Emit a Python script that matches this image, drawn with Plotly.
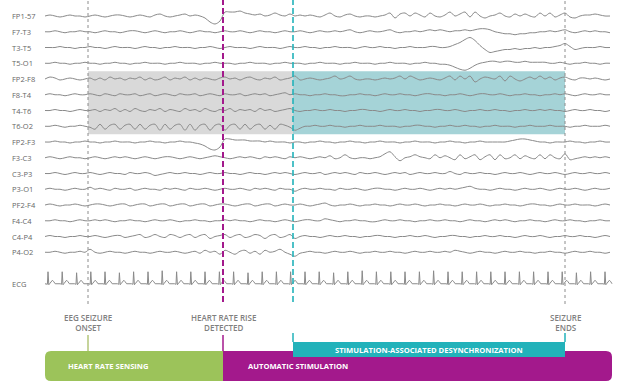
import plotly.graph_objects as go

# ---------------- data ----------------
CHANNELS = ["FP1-57", "F7-T3", "T3-T5", "T5-O1", "FP2-F8", "F8-T4", "T4-T6", "T6-O2",
            "FP2-F3", "F3-C3", "C3-P3", "P3-O1", "PF2-F4", "F4-C4", "C4-P4", "P4-O2"]
ECG_LABEL = "ECG"

T_START = 0.0    # s
DT = 0.25        # s between samples

fp1_f7 = [0,1,0,-1,0,1,0,0,-1,0, 1,0,-1,0,1,1,0,-1,0,1, 0,-1,1,2,0,-1,0,1,2,0,
          1,0,-2,-6,-8,-5,4,4,4,5, 3,2,1,2,0,1,3,1,0,2, 0,1,0,1,0,-1,1,3,0,-1,
          1,2,0,-1,0,0,-1,0,1,3, -2,2,3,0,3,1,-1,3,0,-1, 1,4,0,2,4,-1,4,0,-2,0,
          1,3,0,-1,2,0,2,0,-1,3, 0,3,-1,1,3,-1,-2,0,1,1, 2,1,0,0]
f7_t3 = [0,0,1,0,-1,0,0,1,0,0, -1,0,1,0,0,-1,0,1,1,0, -1,0,1,0,-1,0,0,1,0,-1,
         0,1,0,0,-1,0,1,0,0,1, 0,-1,0,1,0,0,-1,0,1,0, 0,1,0,-1,0,1,0,0,1,0,
         1,2,0,-1,0,1,0,0,1,2, 0,-1,0,0,1,0,1,2,1,2, 1,0,1,1,2,1,2,3,3,2,
         0,-1,-2,-2,-3,-2,-2,-1,-1,0, 0,1,0,1,2,0,-1,0,1,0, 1,0,0,-1]
t3_t5 = [0,0,0,1,0,0,-1,0,0,1, 0,0,-1,0,1,0,0,0,-1,0, 1,0,0,-1,0,0,1,0,0,0,
         -1,0,0,1,0,-1,0,1,0,0, 0,-1,0,1,0,0,0,-1,0,1, 0,0,1,0,0,-1,0,0,1,0,
         0,0,-1,0,1,0,0,1,0,0, -1,0,0,1,0,0,0,1,1,0, 0,1,3,5,8,10,7,2,-2,-5,
         -4,-3,-2,-2,-1,-2,-1,-1,0,-1, 0,0,1,2,4,1,-2,-1,0,0, 0,1,0,0]
t5_o1 = [0,0,1,0,0,-1,0,0,1,0, 0,-1,0,0,1,0,0,-1,0,0, 1,0,0,0,-1,0,0,1,0,0,
         0,-1,0,0,1,0,0,0,-1,0, 0,1,0,0,0,-1,0,0,1,0, 0,0,-1,0,0,1,0,0,0,-1,
         0,0,1,0,0,0,-1,0,0,1, 0,0,0,-1,0,0,1,0,0,-1, -1,-2,-4,-6,-7,-5,-2,0,1,2,
         2,1,2,2,1,1,2,1,1,1, 1,0,0,1,0,-1,0,0,1,0, 0,-1,0,0]
fp2_f8 = [0,2,1,-1,0,1,0,-1,0,1, -1,1,-1,2,0,1,-1,1,0,2, -1,1,-1,0,2,-1,1,0,2,-1,
          1,-1,1,0,-1,1,2,0,1,-1, 1,2,0,-1,1,0,2,-1,0,1, 3,-1,0,1,0,-1,0,1,3,0,
          1,3,0,-1,0,0,-1,0,1,0, 1,3,0,3,1,-1,0,1,0,-1, 1,3,-1,3,0,3,-3,0,2,1,
          0,3,-2,3,0,-2,0,2,0,3, 0,2,-1,1,2,0,-1,1,1,0, 1,0,-1,0]
f8_t4 = [0,1,0,0,-1,0,1,0,0,1, 0,-1,1,0,-1,1,0,0,1,-1, 0,1,-1,0,1,0,-1,1,0,0,
         1,-1,0,1,0,-1,1,0,0,1, -1,0,1,0,1,-1,0,1,2,0, 1,0,0,-1,0,0,1,0,0,-1,
         -1,0,0,1,0,0,-1,0,1,0, 0,1,0,0,-1,0,1,1,0,0, -1,0,0,1,0,-1,0,1,1,0,
         0,1,0,-1,0,0,1,0,0,-1, 0,0,1,0,1,0,-1,0,1,0, 0,1,0,0]
t4_t6 = [0,0,1,0,0,-1,0,1,0,0, 1,-1,1,0,2,-1,1,-1,2,0, -1,1,0,2,-1,1,0,-1,2,0,
         1,-1,2,0,-1,1,0,2,-1,1, 0,1,-1,2,0,1,-1,0,1,2, 0,-1,0,0,1,0,0,1,0,0,
         -1,0,0,1,1,0,0,-1,0,1, 0,0,1,0,0,-1,0,0,1,1, 0,0,1,0,-1,0,0,1,0,0,
         1,0,0,-1,0,0,1,0,0,1, 0,1,0,0,-1,0,1,0,0,1, 0,0,-1,0]
t6_o2 = [0,0,1,0,-1,0,0,1,0,-1, -3,2,-3,1,2,-3,1,2,-3,2, -3,1,2,-4,2,-3,1,2,-4,2,
         -4,1,2,-4,1,2,-4,1,2,-3, 2,-3,1,2,-3,1,-3,2,1,-1, -4,-2,0,0,1,0,0,1,0,0,
         -1,0,0,1,0,0,0,1,0,0, 0,-1,0,0,1,1,0,0,-1,0, 0,1,0,0,1,0,0,-1,0,0,
         1,0,0,0,-1,0,0,1,0,0, 0,1,0,0,0,-1,0,0,1,0, 0,0,1,0]
fp2_f3 = [0,0,1,0,0,-1,0,0,1,0, 0,-1,0,0,1,0,0,0,-1,0, 0,1,0,0,-1,0,0,1,0,0,
          -1,-2,-4,-7,-8,-5,3,3,2,2, 2,1,1,1,0,1,0,0,0,-1, 0,0,-1,0,0,1,0,0,-1,0,
          0,1,0,0,-1,0,0,1,0,0, 0,-1,0,0,1,0,0,0,-1,0, 0,1,0,0,-1,0,0,1,0,0,
          0,0,0,1,2,3,3,2,1,0, 0,-1,0,0,0,1,0,0,-1,0, 0,1,0,0]
f3_c3 = [0,1,0,-1,0,1,0,0,-1,0, 1,0,-1,0,1,0,1,0,-1,0, 1,0,-1,0,1,1,0,-1,0,1,
         0,-1,0,1,2,1,0,-1,0,1, 0,1,0,-1,1,0,1,0,-1,1, 0,1,0,-1,0,1,0,2,-1,0,
         3,0,-1,0,0,-1,0,1,4,6, 1,-3,0,1,3,1,0,-1,3,0, 2,0,-2,3,-1,1,3,-2,1,3,
         -2,3,-1,0,3,-1,2,0,-1,3, -1,3,0,-1,4,-2,-1,0,1,0, 1,0,1,0]
c3_p3 = [0,0,1,0,-1,0,1,0,0,1, 0,-1,0,1,0,0,-1,1,0,0, 1,0,-2,-1,0,1,0,0,1,0,
         0,-1,0,1,0,0,1,0,0,-1, 0,1,0,0,-1,0,1,0,1,0, -1,0,1,0,0,1,-1,0,1,0,
         1,0,-1,1,0,0,1,0,-1,0, 1,0,1,-1,0,1,0,0,1,0, 0,2,0,-1,1,0,0,1,0,0,
         -1,0,1,0,0,1,0,-1,0,1, 0,0,1,0,-1,0,1,0,0,1, 0,0,1,0]
p3_o1 = [0,1,0,0,-1,0,1,0,0,2, 0,1,0,-1,1,0,0,1,-1,0, 1,0,0,-1,1,0,1,0,-1,1,
         0,0,1,0,-1,0,1,0,0,1, 0,-1,1,0,1,0,-1,1,0,0, -2,0,1,0,0,1,0,0,-1,1,
         0,0,1,0,-1,0,1,1,0,0, -1,0,1,0,0,1,0,-1,0,1, 0,1,0,1,2,3,1,0,0,-1,
         0,1,0,0,-1,0,1,0,0,1, 0,-1,0,1,0,0,1,0,-1,0, 1,0,0,1]
pf2_f4 = [0,1,0,-1,0,0,1,0,-1,0, 1,1,0,-1,0,1,1,-1,0,1, 1,-1,0,1,1,-1,0,1,1,-1,
          0,1,1,-1,0,1,1,0,-1,0, 1,1,-1,0,1,1,-1,0,1,0, 0,1,0,-1,0,1,2,0,-1,0,
          0,1,0,-1,0,0,1,0,0,-1, 0,1,0,0,1,0,-1,0,0,1, 0,0,-1,0,1,0,0,1,0,-1,
          0,0,1,0,0,-1,0,1,1,0, 0,-1,0,1,0,0,1,0,0,0, -1,0,1,0]
f4_c4 = [0,0,1,0,0,-1,0,1,0,0, 1,0,1,0,-1,0,0,1,0,0, -1,0,1,0,0,1,0,-1,0,0,
         1,0,0,-1,0,0,1,0,1,0, 0,-1,0,1,0,0,-1,0,1,0, -1,0,1,1,0,0,2,1,0,-1,
         0,0,1,0,0,-1,-1,0,1,0, 0,1,0,0,-1,0,0,1,0,0, 1,0,0,-1,0,1,0,0,-1,0,
         1,0,1,0,-1,0,0,1,0,0, -1,0,1,0,0,1,0,0,-1,0, 0,1,0,0]
c4_p4 = [0,1,0,0,-1,0,0,1,0,0, 1,0,-1,0,1,1,-1,0,1,2, -1,0,2,0,-1,2,1,-1,1,2,
         -1,1,2,-2,0,1,2,-1,1,2, -1,0,2,1,-2,1,2,-1,0,2, -2,0,1,0,0,-1,0,1,0,0,
         1,0,0,-1,0,0,1,1,0,0, -1,0,0,1,0,0,1,0,-1,0, 0,1,1,0,0,-1,0,0,1,0,
         0,1,0,0,-1,0,1,0,0,1, 0,-1,0,0,1,0,0,1,0,0, -1,0,1,0]
p4_o2 = [0,0,1,0,-1,0,0,1,0,3, 0,-1,0,1,0,0,-1,0,1,0, 0,-1,0,1,0,0,1,0,-1,0,
         1,-1,2,0,1,-2,2,0,-2,1, 2,-1,1,-2,2,0,1,3,0,-2, -4,-1,0,1,0,0,-1,0,1,0,
         0,1,0,-1,0,0,1,0,0,1, 0,0,-1,0,1,0,0,1,0,0, 1,0,2,1,0,-1,0,1,0,0,
         -1,0,1,0,0,1,0,0,-1,0, 0,1,0,0,-1,0,1,0,0,1, 0,0,-1,0]

EEG_VALUES = [fp1_f7, f7_t3, t3_t5, t5_o1, fp2_f8, f8_t4, t4_t6, t6_o2,
              fp2_f3, f3_c3, c3_p3, p3_o1, pf2_f4, f4_c4, c4_p4, p4_o2]

# ECG R-peak times (s) and R amplitudes
ECG_BEATS = [0.15, 0.86, 1.58, 2.29, 3.0, 3.72, 4.43, 5.15, 5.86, 6.58, 7.29, 8.0,
             8.72, 9.43, 10.15, 10.86, 11.57, 12.28, 13.0, 13.71, 14.43, 15.14,
             15.86, 16.57, 17.29, 18.0, 18.72, 19.43, 20.15, 20.86, 21.58, 22.29,
             23.0, 23.72, 24.43, 25.15, 25.86, 26.57, 27.28, 28.0]
ECG_R = [12, 12, 11, 12, 12, 11, 12, 12, 13, 12, 12, 12, 12, 12, 11, 12, 12, 12,
         12, 12, 11, 12, 13, 12, 12, 12, 12, 13, 12, 12, 12, 12, 12, 12, 12, 12,
         12, 11, 12, 12]
T_END = 28.35

# events (s)
T_ONSET = 2.15
T_HR = 8.9
T_STIM = 12.4
T_SEIZ_END = 26.0

# ---------------- layout helpers ----------------
W, H = 620, 385
PX_PER_S = 20.0
PX_PER_ROW = 15.75
X0_PX = 45
ROW0_PX = 16
X_RANGE = [T_START - X0_PX / PX_PER_S, T_START + (W - X0_PX) / PX_PER_S]
Y_RANGE = [-(H - ROW0_PX) / PX_PER_ROW, ROW0_PX / PX_PER_ROW]
ECG_ROW = 17


def py(p):  # pixel row -> paper y
    return 1 - p / H


fig = go.Figure()

LINE_COL = "#8a8a8a"
for i, vals in enumerate(EEG_VALUES):
    t = [T_START + k * DT for k in range(len(vals))]
    y = [-i + v / PX_PER_ROW for v in vals]
    fig.add_trace(go.Scatter(x=t, y=y, mode="lines",
                             line=dict(color=LINE_COL, width=1, shape="spline", smoothing=0.9),
                             hoverinfo="skip", showlegend=False))

# ECG
tmpl_dt = [-0.1, -0.03, 0.0, 0.04, 0.08, 0.15, 0.22, 0.29, 0.36]
tmpl_v = [0, -0.5, 1.0, -1, 0, 2.5, 3.5, 2, 0]
ex, ey = [T_START], [-ECG_ROW]
for bt, r in zip(ECG_BEATS, ECG_R):
    for d, v in zip(tmpl_dt, tmpl_v):
        tt = bt + d
        if tt < T_START or tt > T_END:
            continue
        val = r if v == 1.0 else v
        ex.append(tt)
        ey.append(-ECG_ROW + val / PX_PER_ROW)
ex.append(T_END)
ey.append(-ECG_ROW)
fig.add_trace(go.Scatter(x=ex, y=ey, mode="lines", line=dict(color=LINE_COL, width=1),
                         hoverinfo="skip", showlegend=False))

shapes = []
# shaded boxes
shapes.append(dict(type="rect", xref="x", yref="y", x0=T_ONSET, x1=T_STIM, y0=-7.5, y1=-3.5,
                   fillcolor="#d9d9d9", line=dict(width=0), layer="below"))
shapes.append(dict(type="rect", xref="x", yref="y", x0=T_STIM, x1=T_SEIZ_END, y0=-7.5, y1=-3.5,
                   fillcolor="#a5d3d7", line=dict(width=0), layer="below"))
# vertical event lines
shapes.append(dict(type="line", xref="x", yref="paper", x0=T_ONSET, x1=T_ONSET, y0=py(304), y1=1,
                   line=dict(color="#8c8c8c", width=1, dash="dot")))
shapes.append(dict(type="line", xref="x", yref="paper", x0=T_SEIZ_END, x1=T_SEIZ_END, y0=py(304), y1=1,
                   line=dict(color="#8c8c8c", width=1, dash="dot")))
shapes.append(dict(type="line", xref="x", yref="paper", x0=T_HR, x1=T_HR, y0=py(302), y1=1,
                   line=dict(color="#a3198c", width=2, dash="6px,3px")))
shapes.append(dict(type="line", xref="x", yref="paper", x0=T_STIM, x1=T_STIM, y0=py(302), y1=1,
                   line=dict(color="#22b2ba", width=1.6, dash="6px,3px")))

# bottom bars
top, bot = py(351), py(381)
rx, ry = 6 / PX_PER_S, 6 / H
GREEN, MAGENTA, TEAL = "#9cc35a", "#a3198c", "#22b2ba"
x0, x1 = T_START, T_HR
shapes.append(dict(type="path", xref="x", yref="paper", fillcolor=GREEN, line=dict(width=0),
                   path=f"M {x0+rx},{top} L {x1},{top} L {x1},{bot} L {x0+rx},{bot} "
                        f"Q {x0},{bot} {x0},{bot+ry} L {x0},{top-ry} Q {x0},{top} {x0+rx},{top} Z"))
x0, x1 = T_HR, T_END
shapes.append(dict(type="path", xref="x", yref="paper", fillcolor=MAGENTA, line=dict(width=0),
                   path=f"M {x0},{top} L {x1-rx},{top} Q {x1},{top} {x1},{top-ry} L {x1},{bot+ry} "
                        f"Q {x1},{bot} {x1-rx},{bot} L {x0},{bot} Z"))
shapes.append(dict(type="rect", xref="x", yref="paper", x0=T_STIM, x1=T_SEIZ_END, y0=py(357), y1=py(342),
                   fillcolor=TEAL, line=dict(width=0)))
for xe in (T_STIM, T_SEIZ_END):
    shapes.append(dict(type="line", xref="x", yref="paper", x0=xe, x1=xe, y0=py(342), y1=py(333),
                       line=dict(color=TEAL, width=1.5)))
shapes.append(dict(type="line", xref="x", yref="paper", x0=T_ONSET, x1=T_ONSET, y0=py(351), y1=py(335),
                   line=dict(color="#b3c67a", width=1.5)))
shapes.append(dict(type="line", xref="x", yref="paper", x0=T_HR, x1=T_HR, y0=py(351), y1=py(335),
                   line=dict(color=MAGENTA, width=1.5)))

FONT = "Open Sans, Noto Sans, sans-serif"
ann = []
for i, name in enumerate(CHANNELS):
    ann.append(dict(x=10 / W, xref="paper", y=-i, yref="y", text=name, showarrow=False,
                    xanchor="left", yanchor="middle", font=dict(family=FONT, size=7.5, color="#666666")))
ann.append(dict(x=10 / W, xref="paper", y=-ECG_ROW, yref="y", text=ECG_LABEL, showarrow=False,
                xanchor="left", yanchor="middle", font=dict(family=FONT, size=7.5, color="#666666")))

for xe, txt in ((T_ONSET, "EEG SEIZURE<br>ONSET"), (T_HR, "HEART RATE RISE<br>DETECTED"),
                (T_SEIZ_END, "SEIZURE<br>ENDS")):
    ann.append(dict(x=xe, xref="x", y=py(322), yref="paper", text=txt, showarrow=False,
                    xanchor="center", yanchor="middle", align="center",
                    font=dict(family=FONT, size=8, color="#808080", weight=600)))

ann.append(dict(x=T_START + 21 / PX_PER_S, xref="x", y=py(366), yref="paper", text="<b>HEART RATE SENSING</b>",
                showarrow=False, xanchor="left", yanchor="middle",
                font=dict(family=FONT, size=7.6, color="white")))
ann.append(dict(x=T_HR + 23 / PX_PER_S, xref="x", y=py(366), yref="paper", text="<b>AUTOMATIC STIMULATION</b>",
                showarrow=False, xanchor="left", yanchor="middle",
                font=dict(family=FONT, size=7.6, color="white")))
ann.append(dict(x=(T_STIM + T_SEIZ_END) / 2, xref="x", y=py(349.5), yref="paper",
                text="<b>STIMULATION-ASSOCIATED DESYNCHRONIZATION</b>",
                showarrow=False, xanchor="center", yanchor="middle",
                font=dict(family=FONT, size=7.6, color="white")))

fig.update_layout(
    width=W, height=H, margin=dict(l=0, r=0, t=0, b=0),
    paper_bgcolor="white", plot_bgcolor="white",
    xaxis=dict(range=X_RANGE, visible=False, fixedrange=True),
    yaxis=dict(range=Y_RANGE, visible=False, fixedrange=True),
    shapes=shapes, annotations=ann, showlegend=False,
)

fig.write_html("out.html", post_script="document.body.style.margin='0';",
               config={"displayModeBar": False})
